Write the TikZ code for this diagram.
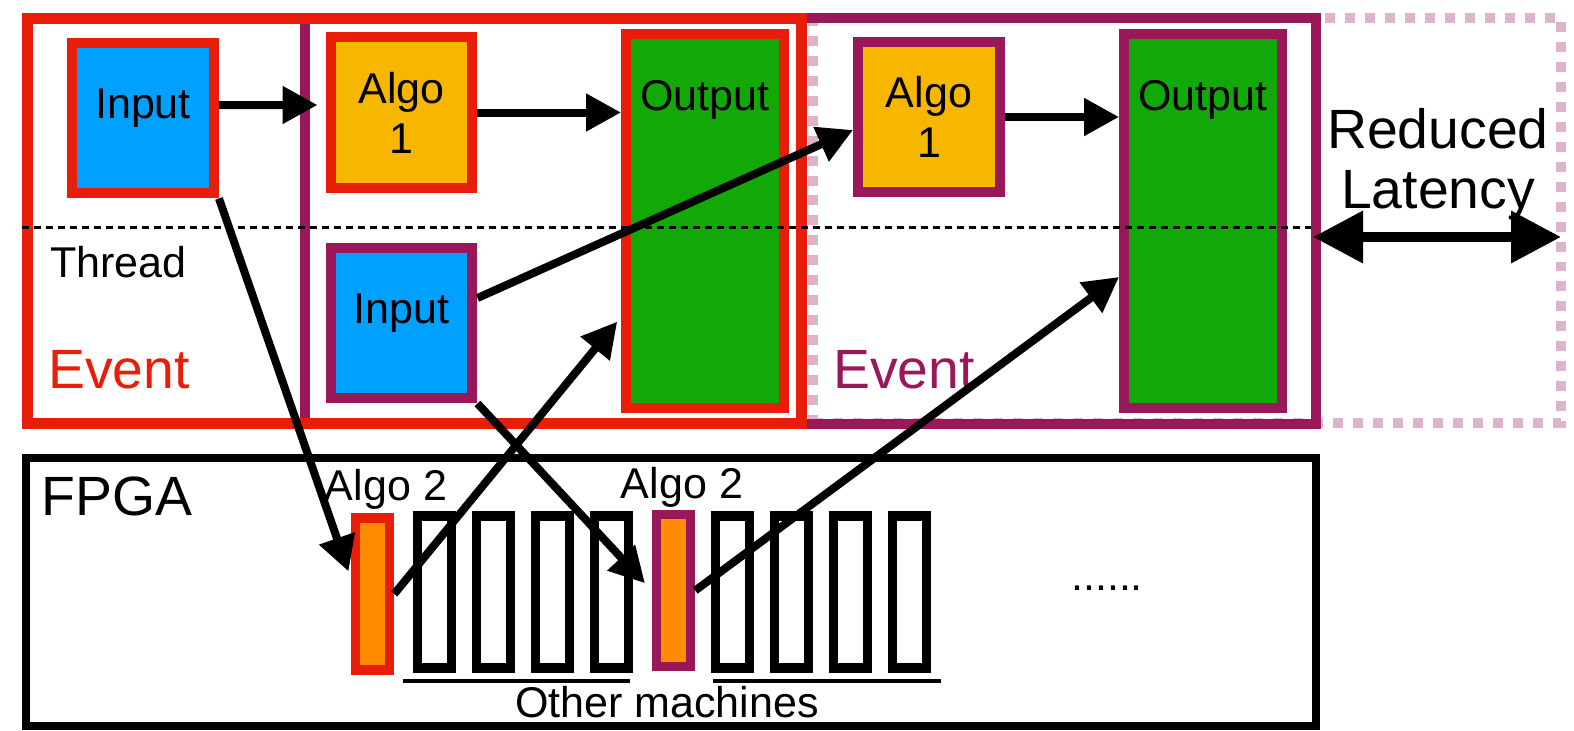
\documentclass[tikz,border=0pt]{standalone}
\usepackage{fontspec}
\setmainfont{Liberation Sans}
\usetikzlibrary{positioning, arrows.meta}

\definecolor{evred}{RGB}{232,30,10}
\definecolor{evpurple}{RGB}{152,24,90}
\definecolor{evpink}{RGB}{221,180,204}
\definecolor{inblue}{RGB}{0,160,255}
\definecolor{algyellow}{RGB}{247,183,0}
\definecolor{outgreen}{RGB}{18,168,8}
\definecolor{fpgaorange}{RGB}{255,140,0}

\newcommand{\lblfont}{\fontsize{24.5}{28.5}\selectfont}
\newcommand{\evfont}{\fontsize{31.5}{34}\selectfont}

\tikzset{
  arr/.style={-{Triangle[length=7mm,width=7.2mm]}, line width=1.6mm, draw=black},
  latarr/.style={{Triangle[length=10mm,width=10mm]}-{Triangle[length=10mm,width=10mm]}, line width=2mm, draw=black},
  evbox/.style={draw, line width=2mm, minimum height=81.2mm, inner sep=0pt},
  blk/.style={draw, line width=2mm, minimum width=28.4mm, minimum height=30.2mm, inner sep=0pt, align=center, font=\lblfont},
  inblk/.style={blk, fill=inblue, text depth=5.6mm},
  outblk/.style={draw, line width=2mm, fill=outgreen, minimum width=31.6mm, minimum height=74.8mm, inner sep=0pt},
  mach/.style={draw, line width=1.9mm, minimum width=6.8mm, minimum height=30.4mm, inner sep=0pt},
  lbl/.style={font=\lblfont, inner sep=0pt, align=center},
  evlbl/.style={font=\evfont, inner sep=0pt, align=center},
  thread/.style={line width=0.6mm, dash pattern=on 1.4mm off 1mm},
  uline/.style={line width=0.7mm}
}

\begin{document}
\begin{tikzpicture}[x=0.02cm, y=-0.02cm]
\useasboundingbox (0,0) rectangle (1574,730);

% event frames: skipped slot, second event, first event
\node[evbox, draw=evpink, dash pattern=on 2mm off 2mm, minimum width=149.6mm] (evq) at (1187,220.5) {};
\node[evbox, draw=evpurple, minimum width=202.2mm] (evp) at (810.5,221) {};
\node[evbox, draw=evred, line width=2.2mm, minimum width=155mm] (evr) at (414.5,221) {};

% first event
\node[inblk, draw=evred] (in1) at (143,118) {Input};
\node[blk, draw=evred, fill=algyellow] (alg1) at (401.5,112.5) {Algo\\1};
\node[outblk, draw=evred, label={[lbl, anchor=north, yshift=-10.2mm]north:Output}] (out1) at (705,221) {};

% second event
\node[inblk, draw=evpurple] (in2) at (401.5,323) {Input};
\node[blk, draw=evpurple, fill=algyellow] (alg2) at (929,117) {Algo\\1};
\node[outblk, draw=evpurple, label={[lbl, anchor=north, yshift=-10.2mm]north:Output}] (out2) at (1203,221) {};

\draw[thread] (evr.west |- 0,227) -- ([xshift=-2mm]evp.east |- 0,227);

\node[lbl, anchor=base west] (thr) at (50,277) {Thread};
\node[evlbl, anchor=base west, text=evred] (ev1) at (48,388) {Event};
\node[evlbl, anchor=base west, text=evpurple] (ev2) at (833,388) {Event};

% latency gain
\node[evlbl] (red) at (1438,164) {Reduced\\Latency};
\coordinate (lat-l) at (1313,237);
\coordinate (lat-r) at (1561,237);
\draw[latarr] (lat-l) -- (lat-r);

% FPGA
\node[draw, line width=1.6mm, minimum width=258.1mm, minimum height=53.7mm, inner sep=0pt] (fpga) at (670.75,591.75) {};
\node[evlbl, anchor=base west] (fpgalbl) at (41,515) {FPGA};

\node[mach, draw=evred, fill=fpgaorange] (ag2a) at (372.5,594) {};
\node[mach, draw=evpurple, fill=fpgaorange] (ag2b) at (673.5,590.5) {};
\foreach \x [count=\i] in {434.5,493.5,552.5,611.5,732.5,791.5,850.5,909.5}
  \node[mach] (m\i) at (\x,592) {};

\node[lbl, anchor=base] (ag2albl) at (386,500) {Algo 2};
\node[lbl, anchor=base] (ag2blbl) at (682,498) {Algo 2};

\draw[uline] ([xshift=-2mm,yshift=-1.7mm]m1.south west) -- ([xshift=-0.6mm,yshift=-1.7mm]m4.south east);
\draw[uline] ([xshift=0.4mm,yshift=-1.7mm]m5.south west) -- ([xshift=2mm,yshift=-1.7mm]m8.south east);
\node[lbl, anchor=base] (other) at (667,717) {Other machines};
\node[lbl, anchor=base] (more) at (1107,590) {......};

% data flow
\draw[arr, shorten >=1.6mm] ([yshift=2.6mm]in1.east) -- ([yshift=1.5mm]alg1.west);
\draw[arr] (alg1.east) -- (alg1.east -| out1.west);
\draw[arr] (alg2.east) -- (alg2.east -| out2.west);
\draw[arr] ([yshift=5mm]in2.east) -- ([yshift=-2.6mm]alg2.west);
\draw[arr, shorten >=1.4mm] (in1.south east) -- ([yshift=3.2mm]ag2a.west);
\draw[arr, shorten >=1.2mm] (ag2a.east) -- ([yshift=-19.2mm]out1.west);
\draw[arr, shorten >=2mm] (in2.south east) -- (ag2b.west);
\draw[arr] (ag2b.east) -- ([yshift=-11.2mm]out2.west);
\end{tikzpicture}
\end{document}
